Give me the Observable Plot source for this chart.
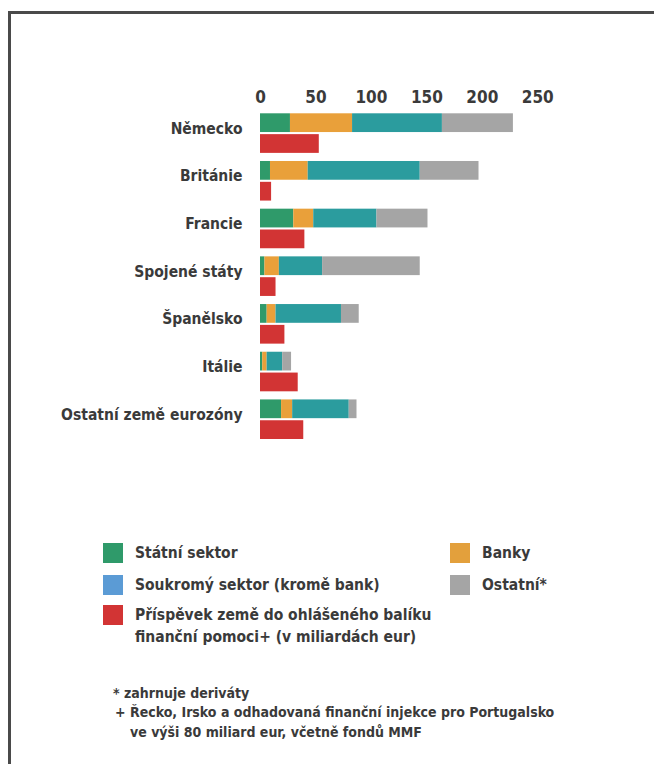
<!DOCTYPE html>
<html>
<head>
<meta charset="utf-8">
<script src="https://cdn.jsdelivr.net/npm/d3@7"></script>
<script src="https://cdn.jsdelivr.net/npm/@observablehq/plot@0.6"></script>
<style>
  html, body { margin: 0; padding: 0; background: #fff; }
  body { width: 654px; height: 764px; position: relative; overflow: hidden;
         font-family: "DejaVu Sans Condensed", "DejaVu Sans", sans-serif; font-stretch: condensed;
         font-weight: bold; color: #3a3a3a; }
  #frame { position: absolute; left: 8px; top: 11px; width: 660px; height: 770px;
           border-top: 3px solid #4a4a4a; border-left: 3px solid #4a4a4a; box-sizing: border-box; }
  #chart { position: absolute; left: 0; top: 0; }
  .sw { position: absolute; width: 20px; height: 20px; }
  .lt { position: absolute; font-size: 15.5px; line-height: 22px; white-space: nowrap; }
  .fn { position: absolute; font-size: 14px; line-height: 20px; white-space: nowrap; }
</style>
</head>
<body>
<div id="frame"></div>
<div id="chart"></div>
<div id="legend"></div>
<div id="notes"></div>
<script>
// ---- data (billions EUR) ----
const countries = ["Německo", "Británie", "Francie", "Spojené státy", "Španělsko", "Itálie", "Ostatní země eurozóny"];
const statni    = [27,  9, 30,  4,  6,  2, 19];
const banky     = [56, 34, 18, 13,  8,  4, 10];
const soukromy  = [81, 101, 57, 39, 59, 14, 51];
const ostatni   = [64, 53, 46, 88, 16,  8,  7];
const prispevek = [53, 10, 40, 14, 22, 34, 39];
const xTicks = [0, 50, 100, 150, 200, 250];

const categories = ["Státní sektor", "Banky", "Soukromý sektor (kromě bank)", "Ostatní*",
  "Příspěvek země do ohlášeného balíku finanční pomoci+ (v miliardách eur)"];
const barColors = ["#2f9a6a", "#e9a03a", "#2b9c9e", "#a5a5a5", "#d23434"];
const legendColors = ["#2f9a6a", "#e3a03c", "#5b9bd5", "#a5a5a5", "#d23434"];

// ---- build table ----
const rows = [];
countries.forEach((c, i) => {
  rows.push({country: c, row: "s", cat: categories[0], value: statni[i]});
  rows.push({country: c, row: "s", cat: categories[1], value: banky[i]});
  rows.push({country: c, row: "s", cat: categories[2], value: soukromy[i]});
  rows.push({country: c, row: "s", cat: categories[3], value: ostatni[i]});
  rows.push({country: c, row: "r", cat: categories[4], value: prispevek[i]});
});

const plot = Plot.plot({
  width: 560,
  height: 444,
  marginLeft: 260,
  marginRight: 22.7,
  marginTop: 113.3,
  marginBottom: 5,
  style: {fontFamily: '"DejaVu Sans Condensed", "DejaVu Sans", sans-serif', fontSize: "17px",
          fontWeight: "bold", color: "#3a3a3a", background: "transparent", overflow: "visible"},
  x: {domain: [0, 250], axis: "top", ticks: xTicks, tickSize: 0, tickPadding: 11, label: null},
  fy: {domain: countries, paddingInner: 0.17, paddingOuter: 0, round: false, axis: null, label: null},
  y: {domain: ["s", "r"], paddingInner: 0.1, paddingOuter: 0, round: false, axis: null},
  color: {domain: categories, range: barColors},
  marks: [
    Plot.barX(rows, Plot.stackX({x: "value", y: "row", fy: "country", fill: "cat", order: null})),
    Plot.text(countries, {fy: d => d, text: d => d, frameAnchor: "left", dx: -18, dy: -5,
      textAnchor: "end", fontSize: 15.5, fontWeight: "bold", fill: "#3a3a3a"})
  ]
});
document.getElementById("chart").appendChild(plot);

// ---- legend ----
const legend = document.getElementById("legend");
const legendItems = [
  {cat: 0, x: 103, y: 543, lines: ["Státní sektor"]},
  {cat: 2, x: 103, y: 575, lines: ["Soukromý sektor (kromě bank)"]},
  {cat: 4, x: 103, y: 605, lines: ["Příspěvek země do ohlášeného balíku", "finanční pomoci+ (v miliardách eur)"]},
  {cat: 1, x: 450, y: 543, lines: ["Banky"]},
  {cat: 3, x: 450, y: 575, lines: ["Ostatní*"]}
];
legendItems.forEach(it => {
  const sw = document.createElement("div");
  sw.className = "sw";
  sw.style.left = it.x + "px"; sw.style.top = it.y + "px";
  sw.style.background = legendColors[it.cat];
  legend.appendChild(sw);
  const t = document.createElement("div");
  t.className = "lt";
  t.style.left = (it.x + 32) + "px"; t.style.top = (it.y - 1) + "px";
  t.innerHTML = it.lines.join("<br>");
  legend.appendChild(t);
});

// ---- footnotes ----
const notes = document.getElementById("notes");
const noteLines = [
  {x: 113, y: 683, text: "* zahrnuje deriváty"},
  {x: 115, y: 702, text: "+ Řecko, Irsko a odhadovaná finanční injekce pro Portugalsko"},
  {x: 130, y: 722, text: "ve výši 80 miliard eur, včetně fondů MMF"}
];
noteLines.forEach(n => {
  const d = document.createElement("div");
  d.className = "fn";
  d.style.left = n.x + "px"; d.style.top = n.y + "px";
  d.textContent = n.text;
  notes.appendChild(d);
});
</script>
</body>
</html>
